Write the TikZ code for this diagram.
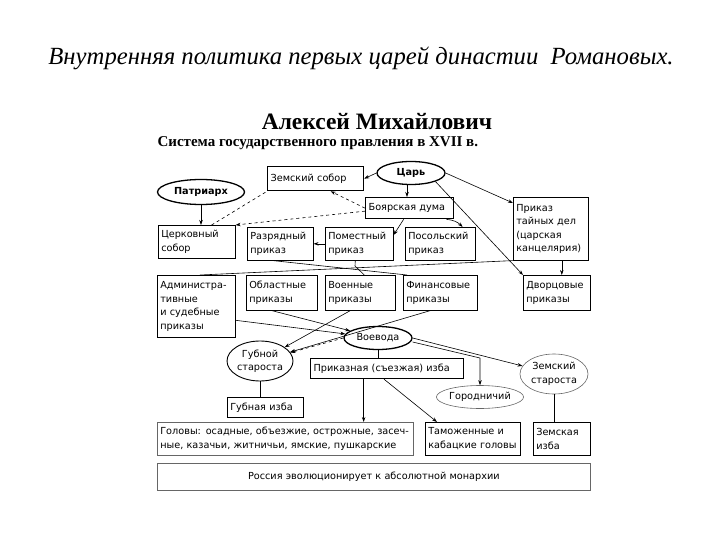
\documentclass[tikz,border=0pt]{standalone}
\usepackage{fontspec}
\setmainfont{Liberation Serif}
\newfontfamily\dgfont{DejaVu Sans}
\usetikzlibrary{positioning, shapes.geometric, arrows.meta}

\begin{document}
\begin{tikzpicture}[x=1pt,y=-1pt,>={Stealth[length=5pt,width=3.5pt]},
  box/.style={draw,line width=0.6pt,anchor=north west,align=left,inner sep=3pt,font=\dgfont\fontsize{9.7}{13.5}\selectfont},
  boldbox/.style={box,line width=1.3pt},
  oval/.style={draw,ellipse,line width=0.6pt,inner sep=0pt,align=center,font=\dgfont\fontsize{9.7}{13.5}\selectfont},
  boldoval/.style={oval,line width=1.3pt},
  link/.style={line width=0.6pt},
  arr/.style={link,->}]
\useasboundingbox (0,0) rectangle (720,540);

% headings
\node (title) at (361,58) {\fontsize{24.7}{28}\selectfont\itshape Внутренняя политика первых царей династии\ \ Романовых.};
\node (tsarname) at (377,122) {\fontsize{23.5}{26}\selectfont\bfseries Алексей Михайлович};
\node (caption) [anchor=west] at (154,143) {\fontsize{15}{17}\selectfont\bfseries Система государственного правления в XVII в.};

% top level
\node[boldoval,minimum width=87pt,minimum height=25pt] (patr) at (201,192) {\bfseries Патриарх};
\node[boldbox,text width=90pt,minimum height=24pt] (zems) at (267,166) {Земский собор};
\node[boldoval,minimum width=68pt,minimum height=23pt] (tsar) at (411,173) {\bfseries Царь};
\node[boldbox,text width=82pt,minimum height=21pt] (boyar) at (365,197) {Боярская дума};
\node[box,text width=69pt,minimum height=63pt] (tain) at (513,197) {Приказ\\тайных дел\\(царская\\канцелярия)};

% prikazy
\node[box,text width=71pt,minimum height=33pt] (cerk) at (158,225) {Церковный\\собор};
\node[box,text width=60pt,minimum height=33pt] (razr) at (247,227) {Разрядный\\приказ};
\node[box,text width=62pt,minimum height=33pt] (pomest) at (325,227) {Поместный\\приказ};
\node[box,text width=64pt,minimum height=33pt] (posol) at (405,227) {Посольский\\приказ};
\node[box,text width=72pt,minimum height=62pt] (adm) at (157,275) {Администра-\\тивные\\и судебные\\приказы};
\node[box,text width=65pt,minimum height=35pt] (oblast) at (246,275) {Областные\\приказы};
\node[box,text width=64pt,minimum height=35pt] (voen) at (325,275) {Военные\\приказы};
\node[box,text width=68pt,minimum height=35pt] (fin) at (403,275) {Финансовые\\приказы};
\node[box,text width=61pt,minimum height=35pt] (dvor) at (523,275) {Дворцовые\\приказы};

% local government
\node[boldoval,minimum width=68pt,minimum height=23pt] (voev) at (378,338) {Воевода};
\node[oval,line width=0.9pt,minimum width=66pt,minimum height=40pt] (gubst) at (260,361) {Губной\\староста};
\node[boldbox,text width=147pt,minimum height=20pt] (prikaz) at (310,358) {Приказная (съезжая) изба};
\node[oval,draw=black!60,minimum width=68pt,minimum height=40pt] (zemst) at (554,374) {Земский\\староста};
\node[box,text width=70pt,minimum height=20pt] (gubizba) at (227,397) {Губная изба};
\node[oval,draw=black!60,minimum width=85pt,minimum height=23pt] (gorod) at (480,397) {Городничий};
\node[box,draw=black!60,text width=250pt,minimum height=33pt] (golovy) at (157,422) {Головы: осадные, объезжие, острожные, засеч-\\ные, казачьи, житничьи, ямские, пушкарские};
\node[box,text width=89pt,minimum height=33pt] (tamoj) at (425,422) {Таможенные и\\кабацкие головы};
\node[box,text width=51pt,minimum height=33pt] (zemizba) at (533,422) {Земская\\изба};
\node[box,draw=black!60,text width=427pt,minimum height=27pt,align=center] (russia) at (157,463) {Россия эволюционирует к абсолютной монархии};

% connectors
\draw[arr] (patr.south) -- (patr.south |- cerk.north);
\draw[arr] (tsar.west) -- (zems.east);
\draw[arr] ([xshift=-4pt]tsar.south) -- ([xshift=-4pt]tsar.south |- boyar.north);
\draw[arr] (tsar.east) -- ([yshift=-6pt]tain.north west);
\draw[arr] (tsar.south east) -- (dvor.north west);
\draw[arr] ([xshift=11pt]tain.south) -- ([xshift=11pt]tain.south |- dvor.north);
\draw[arr,dashed] (boyar.west) -- ([xshift=15pt]zems.south);
\draw[arr,dashed] ([yshift=-3pt]boyar.west) -- (cerk.north east);
\draw[link,dashed] ([xshift=-24pt]cerk.north east) -- (zems.south west);
\draw[arr] ([xshift=-6pt]boyar.south) -- ([yshift=-8pt]pomest.north east);
\draw[arr] ([xshift=-8pt]boyar.south east) to[bend left=20] ([xshift=-13pt]posol.north east);
\draw[arr] (pomest.west) -- (razr.east);

\coordinate (J) at (355,266);
\draw[link] ([xshift=-4pt]pomest.south) -- (J) -- ([xshift=4pt]voen.north);
\draw[link] ([xshift=43pt]adm.north west) -- (tain.south west);
\draw[link] ([xshift=26pt]razr.south west) -- ([xshift=4pt]fin.north west);

\draw[arr] ([yshift=-14pt]adm.east) -- (voev);
\draw[arr] ([xshift=-10pt]oblast.south) -- (voev);
\draw[arr] ([xshift=-10pt]voen.south) -- (gubst);
\draw[arr] ([xshift=-10pt]fin.south) -- (gubst);
\draw[arr,dashed] (voev.west) -- (gubst);
\draw[link] (voev.south) -- (voev.south |- prikaz.north);
\draw[arr] (voev.east) -- (zemst);
\draw[arr] ([yshift=-4pt]voev.east) -- (gorod.north |- prikaz.north) -- (gorod.north);
\draw[link] (gubst.south) -- (gubst.south |- gubizba.north);
\draw[arr] ([xshift=-23.5pt]prikaz.south) -- ([xshift=-23.5pt]prikaz.south |- golovy.north);
\draw[arr] ([xshift=-3pt]prikaz.south) -- ([xshift=12pt]tamoj.north west);
\draw[link] (zemst.south) -- (zemst.south |- zemizba.north);
\end{tikzpicture}
\end{document}
